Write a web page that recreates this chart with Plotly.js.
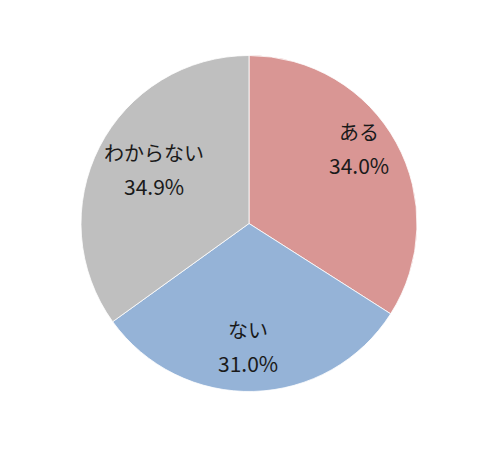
<!DOCTYPE html>
<html>
<head>
<meta charset="utf-8">
<script src="https://cdn.plot.ly/plotly-3.0.1.min.js"></script>
<style>html,body{margin:0;padding:0;background:#fff;}#chart{width:504px;height:455px;}</style>
</head>
<body>
<div id="chart"></div>
<script>
const categories = ["ある", "ない", "わからない"];
const values = [34.0, 31.0, 34.9];
const valueLabels = ["34.0%", "31.0%", "34.9%"];
const colors = ["#D99694", "#95B3D7", "#BFBFBF"];

const W = 504, H = 455;
const margin = { l: 81, r: 87, t: 55, b: 63 };
const plotW = W - margin.l - margin.r, plotH = H - margin.t - margin.b;
const R = Math.min(plotW, plotH) / 2;
const labelRadius = 0.72;   // fraction of the pie radius where labels sit
const lineGap = 17;         // px from pair centre to each line centre
// "best fit" style nudges (px) applied to each slice's label pair
const labelNudgeX = [4, -4, 13];
const labelNudgeY = [-17, 2, 1];
const font = { family: "Noto Sans CJK JP, sans-serif", size: 20, color: "#1a1a1a" };
const pctFont = { family: "Noto Sans CJK JP, sans-serif", size: 21, color: "#1a1a1a" };

const trace = {
  type: "pie",
  labels: categories,
  values: values,
  sort: false,
  direction: "clockwise",
  rotation: 0,
  marker: { colors: colors, line: { color: "#ffffff", width: 0.8 } },
  textinfo: "none",
  hoverinfo: "none",
  showlegend: false
};

// label positions derived from each slice's bisector angle
const total = values.reduce((a, b) => a + b, 0);
const annotations = [];
let cum = 0;
values.forEach((v, i) => {
  const mid = (cum + v / 2) / total * 2 * Math.PI;
  cum += v;
  const dxPx = labelRadius * R * Math.sin(mid) + labelNudgeX[i];
  const dyPx = -labelRadius * R * Math.cos(mid) + labelNudgeY[i];
  const cx = 0.5 + dxPx / plotW;
  const cy = 0.5 - dyPx / plotH;
  annotations.push({ xref: "paper", yref: "paper", x: cx, y: cy + lineGap / plotH,
    text: categories[i], showarrow: false, font: font, xanchor: "center", yanchor: "middle" });
  annotations.push({ xref: "paper", yref: "paper", x: cx, y: cy - lineGap / plotH,
    text: valueLabels[i], showarrow: false, font: pctFont, xanchor: "center", yanchor: "middle" });
});

const layout = {
  width: W,
  height: H,
  margin: margin,
  paper_bgcolor: "#ffffff",
  plot_bgcolor: "#ffffff",
  showlegend: false,
  annotations: annotations
};

Plotly.newPlot("chart", [trace], layout, { displayModeBar: false, staticPlot: true });
</script>
</body>
</html>
